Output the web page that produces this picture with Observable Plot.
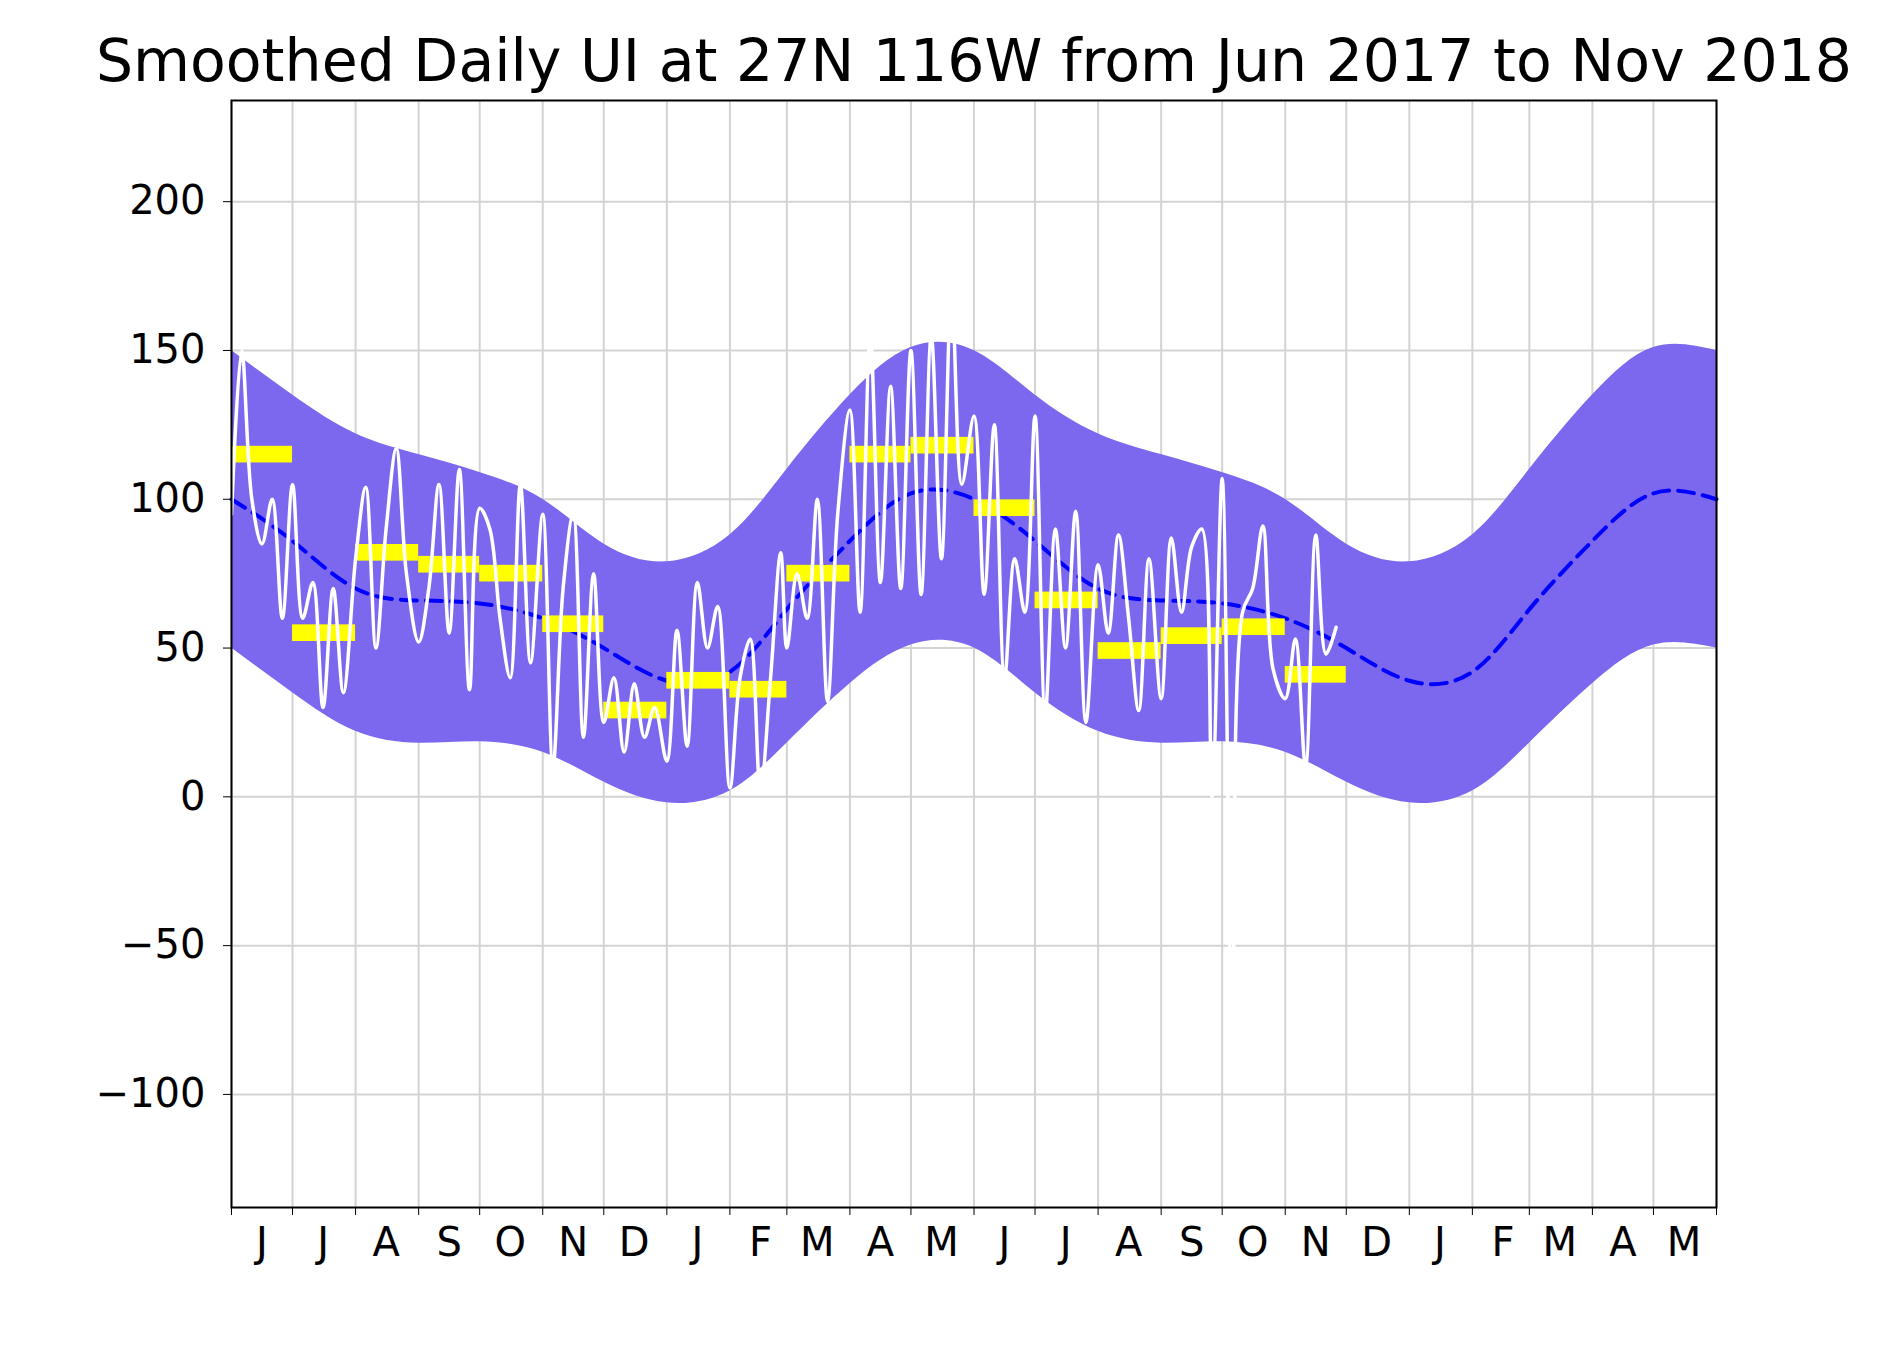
<!DOCTYPE html>
<html>
<head>
<meta charset="utf-8">
<script src="https://cdn.jsdelivr.net/npm/d3@7"></script>
<script src="https://cdn.jsdelivr.net/npm/@observablehq/plot@0.6"></script>
<style>
  body { margin: 0; background: white; }
</style>
</head>
<body>
<div id="chart"></div>
<script>
// climatology at the first of each month, Jun..May (repeats for the second year)
const climMonths = ["Jun","Jul","Aug","Sep","Oct","Nov","Dec","Jan","Feb","Mar","Apr","May"];
const climMean  = [100, 86, 70, 66, 65, 60, 50, 39, 42, 63, 86, 102];
const climUpper = [150, 135, 122, 115, 109, 100, 85, 79, 88, 110, 135, 151];
const climLower = [50, 35, 22, 18, 18.5, 15, 5, -2, 2, 18, 38, 51];

// monthly means Jun 2017 .. Nov 2018
const monthlyMean = [115, 55, 82, 78, 75, 58, 29, 39, 36, 75, 115, 118, 97, 66, 49, 54, 57, 41];

// daily values, six readings per month (days 1,6,11,16,21,26), Jun 2017 .. Nov 2018
const dailyValues = [
  [95, 150, 100, 85, 100, 60],
  [105, 60, 72, 30, 70, 35],
  [80, 104, 50, 90, 117, 75],
  [52, 70, 105, 55, 110, 36],
  [97, 90, 60, 40, 105, 45],
  [95, 10, 70, 95, 20, 75],
  [25, 40, 15, 38, 20, 30],
  [12, 56, 17, 72, 50, 64],
  [3, 40, 53, 2, 40, 82],
  [50, 75, 60, 100, 32, 95],
  [130, 62, 155, 72, 138, 70],
  [150, 68, 155, 80, 170, 105],
  [128, 68, 125, 40, 80, 62],
  [128, 28, 90, 50, 96, 25],
  [78, 55, 88, 60, 29, 80],
  [33, 87, 62, 84, 90, 0],
  [107, -80, 62, 70, 91, 43],
  [33, 53, 10, 88, 48, 57]
];
const dailyDays = [1, 6, 11, 16, 21, 26];

const start = new Date(2017, 5, 1);
const monthStarts = d3.range(25).map(i => d3.timeMonth.offset(start, i));
const monthMids = d3.range(24).map(i => d3.timeDay.offset(monthStarts[i], 15));

const clim = monthStarts.map((d, i) => ({date: d, mean: climMean[i % 12], lo: climLower[i % 12], hi: climUpper[i % 12]}));
const monthly = monthlyMean.map((v, i) => ({x1: monthStarts[i], x2: monthStarts[i + 1], v}));
const daily = dailyValues.flatMap((row, i) =>
  row.map((v, k) => ({date: new Date(2017, 5 + i, dailyDays[k]), v})));

const chart = Plot.plot({
  width: 1880,
  height: 1357,
  marginTop: 100,
  marginLeft: 231,
  marginRight: 164,
  marginBottom: 150,
  style: {fontFamily: "DejaVu Sans", fontSize: "40px", background: "white", color: "black"},
  x: {type: "time", domain: [monthStarts[0], monthStarts[24]]},
  y: {domain: [-138, 234]},
  marks: [
    Plot.gridY([-100, -50, 0, 50, 100, 150, 200], {stroke: "#d3d3d3", strokeOpacity: 1, strokeWidth: 2}),
    Plot.gridX(monthStarts, {stroke: "#d3d3d3", strokeOpacity: 1, strokeWidth: 2}),
    Plot.areaY(clim, {x: "date", y1: "lo", y2: "hi", fill: "#7b68ee", curve: "natural"}),
    Plot.line(clim, {x: "date", y: "mean", stroke: "blue", strokeWidth: 4,
      strokeDasharray: "16,9", curve: "natural"}),
    Plot.rect(monthly, {x1: "x1", x2: "x2", y1: d => d.v - 2.8, y2: d => d.v + 2.8, fill: "yellow"}),
    Plot.line(daily, {x: "date", y: "v", stroke: "white", strokeWidth: 3.5, curve: "catmull-rom", clip: true}),
    Plot.axisY([-100, -50, 0, 50, 100, 150, 200], {tickSize: 8, tickPadding: 18,
      tickFormat: d => d < 0 ? "\u2212" + Math.abs(d) : String(d), label: null}),
    Plot.axisX(monthStarts, {tickSize: 8, tickFormat: () => "", label: null}),
    Plot.axisX(monthMids, {tickSize: 0, tickPadding: 20, tickFormat: d => d3.timeFormat("%b")(d)[0], label: null}),
    Plot.frame({stroke: "black", strokeWidth: 2}),
    Plot.text(["Smoothed Daily UI at 27N 116W from Jun 2017 to Nov 2018"], {
      frameAnchor: "top", lineAnchor: "bottom", dy: -20, fontSize: 58.5, fill: "black"})
  ]
});
document.getElementById("chart").append(chart);
</script>
</body>
</html>
